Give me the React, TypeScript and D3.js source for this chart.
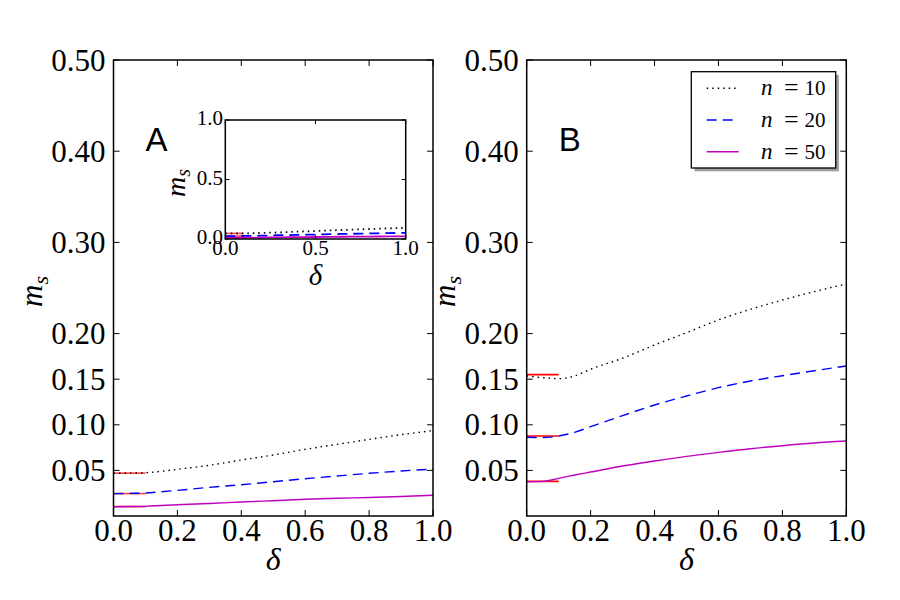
import { useEffect, useRef } from "react";
import * as d3 from "d3";

// delta grid shared by every curve
const deltas = [0, 0.05, 0.1, 0.15, 0.2, 0.3, 0.4, 0.5, 0.6, 0.7, 0.8, 0.9, 1.0];

// panel A
const aN10 = [0.0468, 0.047, 0.0475, 0.049, 0.0512, 0.0556, 0.0614, 0.0669, 0.0731, 0.0786, 0.084, 0.0892, 0.0936];
const aN20 = [0.0245, 0.0248, 0.0252, 0.0266, 0.0281, 0.0314, 0.0343, 0.0376, 0.0409, 0.0439, 0.0468, 0.0493, 0.0515];
const aN50 = [0.0102, 0.0104, 0.0106, 0.0115, 0.0124, 0.0137, 0.0153, 0.0168, 0.0183, 0.0194, 0.0203, 0.0214, 0.0227];

// panel B
const bN10 = [0.1535, 0.1517, 0.1506, 0.1535, 0.161, 0.173, 0.1875, 0.201, 0.215, 0.2266, 0.2368, 0.246, 0.2544];
const bN20 = [0.0863, 0.086, 0.0877, 0.0917, 0.098, 0.11, 0.1217, 0.1316, 0.1407, 0.148, 0.1538, 0.1593, 0.1645];
const bN50 = [0.0376, 0.038, 0.0413, 0.0449, 0.0482, 0.0548, 0.0603, 0.0654, 0.0698, 0.0738, 0.0771, 0.08, 0.0822];

// red reference levels drawn over delta in [0, 0.1]
const limitRange = [0, 0.1];
const aLimits = [0.047, 0.0245, 0.0102];
const bLimits = [0.155, 0.0877, 0.038];

const seriesNames = ["10", "20", "50"];
const seriesColors = ["#000000", "#0000ff", "#bf00bf"];
const seriesDash = ["1.5,4", "10,6", "none"];

const yTicks = [0.05, 0.1, 0.15, 0.2, 0.3, 0.4, 0.5];
const xTicks = [0, 0.2, 0.4, 0.6, 0.8, 1.0];
const insetTicks = [0, 0.5, 1.0];

const serif = "Liberation Serif, Times New Roman, serif";
const sans = "Liberation Sans, Arial, sans-serif";

export default function App() {
  const svgRef = useRef<SVGSVGElement | null>(null);

  useEffect(() => {
    if (!svgRef.current) return;
    const svg = d3.select(svgRef.current);
    svg.selectAll("*").remove();

    svg.append("rect").attr("width", 900).attr("height", 600).attr("fill", "#fff");

    const top = 60;
    const bottom = 516;

    const serifText = (g: d3.Selection<SVGGElement, unknown, null, undefined>, size: number) =>
      g.append("text").style("font-family", serif).style("font-size", `${size}px`);

    const drawPanel = (
      left: number,
      right: number,
      curves: number[][],
      limits: number[],
      redOpacity: number,
      label: string
    ) => {
      const x = d3.scaleLinear().domain([0, 1]).range([left, right]);
      const y = d3.scaleLinear().domain([0, 0.5]).range([bottom, top]);
      const g = svg.append("g");

      // red limit segments first, curves on top
      limits.forEach((v) => {
        g.append("line")
          .attr("x1", x(limitRange[0]))
          .attr("x2", x(limitRange[1]))
          .attr("y1", y(v))
          .attr("y2", y(v))
          .attr("stroke", "#ff0000")
          .attr("stroke-opacity", redOpacity)
          .attr("stroke-width", 1.7);
      });

      const line = d3
        .line<number>()
        .x((_, i) => x(deltas[i]))
        .y((d) => y(d))
        .curve(d3.curveMonotoneX);

      curves.forEach((c, i) => {
        g.append("path")
          .attr("d", line(c))
          .attr("fill", "none")
          .attr("stroke", seriesColors[i])
          .attr("stroke-width", 1.4)
          .attr("stroke-dasharray", seriesDash[i]);
      });

      // ticks inside on all four sides
      const tl = 6;
      yTicks.forEach((t) => {
        g.append("line").attr("x1", left).attr("x2", left + tl).attr("y1", y(t)).attr("y2", y(t)).attr("stroke", "#000");
        g.append("line").attr("x1", right).attr("x2", right - tl).attr("y1", y(t)).attr("y2", y(t)).attr("stroke", "#000");
        serifText(g, 31)
          .attr("x", left - 8)
          .attr("y", y(t))
          .attr("dy", "0.34em")
          .attr("text-anchor", "end")
          .text(d3.format(".2f")(t));
      });
      xTicks.forEach((t) => {
        g.append("line").attr("x1", x(t)).attr("x2", x(t)).attr("y1", bottom).attr("y2", bottom - tl).attr("stroke", "#000");
        g.append("line").attr("x1", x(t)).attr("x2", x(t)).attr("y1", top).attr("y2", top + tl).attr("stroke", "#000");
        serifText(g, 31)
          .attr("x", x(t))
          .attr("y", bottom + 25)
          .attr("text-anchor", "middle")
          .text(d3.format(".1f")(t));
      });

      g.append("rect")
        .attr("x", left)
        .attr("y", top)
        .attr("width", right - left)
        .attr("height", bottom - top)
        .attr("fill", "none")
        .attr("stroke", "#000")
        .attr("stroke-width", 1.5);

      // axis labels
      serifText(g, 32)
        .attr("x", (left + right) / 2)
        .attr("y", bottom + 54)
        .attr("text-anchor", "middle")
        .style("font-style", "italic")
        .text("δ");

      const yl = serifText(g, 31)
        .attr("transform", `translate(${left - 72},307) rotate(-90)`)
        .style("font-style", "italic");
      yl.append("tspan").text("m");
      yl.append("tspan").style("font-size", "22px").attr("dy", 6).text("s");

      g.append("text")
        .attr("x", x(0.1))
        .attr("y", 151)
        .style("font-family", sans)
        .style("font-size", "33px")
        .text(label);

      return g;
    };

    drawPanel(113.5, 433, [aN10, aN20, aN50], aLimits, 0.7, "A");
    drawPanel(526.7, 846.3, [bN10, bN20, bN50], bLimits, 1, "B");

    // inset in panel A
    const ix = d3.scaleLinear().domain([0, 1]).range([225.3, 405.7]);
    const iy = d3.scaleLinear().domain([0, 1]).range([239, 120]);
    const inset = svg.append("g");
    inset
      .append("rect")
      .attr("x", 225.3)
      .attr("y", 120)
      .attr("width", 405.7 - 225.3)
      .attr("height", 239 - 120)
      .attr("fill", "#fff");
    const iline = d3
      .line<number>()
      .x((_, i) => ix(deltas[i]))
      .y((d) => iy(d))
      .curve(d3.curveMonotoneX);
    aLimits.forEach((v) => {
      inset.append("line")
        .attr("x1", ix(limitRange[0]))
        .attr("x2", ix(limitRange[1]))
        .attr("y1", iy(v))
        .attr("y2", iy(v))
        .attr("stroke", "#ff0000")
        .attr("stroke-opacity", 0.7)
        .attr("stroke-width", 1.7);
    });
    [aN10, aN20, aN50].forEach((c, i) => {
      inset.append("path")
        .attr("d", iline(c))
        .attr("fill", "none")
        .attr("stroke", seriesColors[i])
        .attr("stroke-width", 1.8)
        .attr("stroke-dasharray", seriesDash[i]);
    });
    insetTicks.forEach((t) => {
      inset.append("line").attr("x1", ix(t)).attr("x2", ix(t)).attr("y1", 239).attr("y2", 235).attr("stroke", "#000");
      inset.append("line").attr("x1", ix(t)).attr("x2", ix(t)).attr("y1", 120).attr("y2", 124).attr("stroke", "#000");
      inset.append("line").attr("x1", 225.3).attr("x2", 229.3).attr("y1", iy(t)).attr("y2", iy(t)).attr("stroke", "#000");
      inset.append("line").attr("x1", 405.7).attr("x2", 401.7).attr("y1", iy(t)).attr("y2", iy(t)).attr("stroke", "#000");
      serifText(inset, 21)
        .attr("x", ix(t))
        .attr("y", 255)
        .attr("text-anchor", "middle")
        .text(d3.format(".1f")(t));
      serifText(inset, 21)
        .attr("x", 223)
        .attr("y", iy(t) - 2)
        .attr("dy", "0.34em")
        .attr("text-anchor", "end")
        .text(d3.format(".1f")(t));
    });
    inset
      .append("rect")
      .attr("x", 225.3)
      .attr("y", 120)
      .attr("width", 405.7 - 225.3)
      .attr("height", 239 - 120)
      .attr("fill", "none")
      .attr("stroke", "#000")
      .attr("stroke-width", 1.5);
    serifText(inset, 29)
      .attr("x", ix(0.5))
      .attr("y", 285)
      .attr("text-anchor", "middle")
      .style("font-style", "italic")
      .text("δ");
    const il = serifText(inset, 28)
      .attr("transform", "translate(185,197) rotate(-90)")
      .style("font-style", "italic");
    il.append("tspan").text("m");
    il.append("tspan").style("font-size", "20px").attr("dy", 5).text("s");

    // legend in panel B
    const lg = svg.append("g");
    lg.append("rect").attr("x", 694.5).attr("y", 75).attr("width", 144.4).attr("height", 96.3).attr("fill", "#a0a0a0");
    lg.append("rect")
      .attr("x", 691.3)
      .attr("y", 71.7)
      .attr("width", 144.4)
      .attr("height", 96.3)
      .attr("fill", "#fff")
      .attr("stroke", "#000")
      .attr("stroke-width", 1.3);
    seriesNames.forEach((n, i) => {
      const cy = 88.3 + i * 31.7;
      lg.append("line")
        .attr("x1", 706.7)
        .attr("x2", 738.7)
        .attr("y1", cy)
        .attr("y2", cy)
        .attr("stroke", seriesColors[i])
        .attr("stroke-width", 1.4)
        .attr("stroke-dasharray", seriesDash[i]);
      serifText(lg, 23)
        .attr("x", 761)
        .attr("y", cy + 7)
        .style("font-style", "italic")
        .text("n");
      serifText(lg, 26)
        .attr("x", 791.3)
        .attr("y", cy + 8)
        .attr("text-anchor", "middle")
        .text("=");
      serifText(lg, 21)
        .attr("x", 825.5)
        .attr("y", cy + 7)
        .attr("text-anchor", "end")
        .text(n);
    });
  }, []);

  return (
    <svg
      ref={svgRef}
      width={900}
      height={600}
      style={{ position: "absolute", left: 0, top: 0 }}
    ></svg>
  );
}
